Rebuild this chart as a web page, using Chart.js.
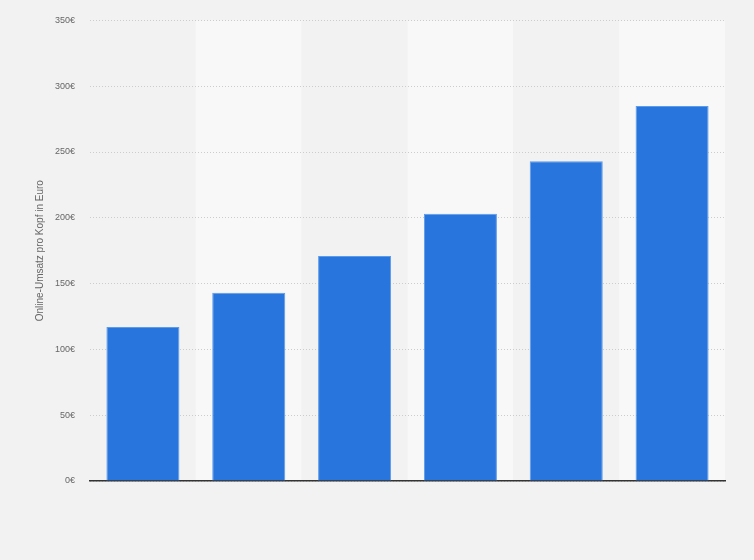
<!DOCTYPE html>
<html>
<head>
<meta charset="utf-8">
<script src="https://cdn.jsdelivr.net/npm/chart.js@4"></script>
<style>
  html, body { margin: 0; padding: 0; background: #f2f2f2; }
  #wrap { width: 754px; height: 560px; }
</style>
</head>
<body>
<div id="wrap"><canvas id="c" width="754" height="560"></canvas></div>
<script>
const categories = ["2015", "2016", "2017", "2018", "2019", "2020"];
const values = [117, 143, 171, 203, 243, 285];
const yTicks = [0, 50, 100, 150, 200, 250, 300, 350];
const yTitle = "Online-Umsatz pro Kopf in Euro";

const columnBands = {
  id: 'columnBands',
  beforeDraw(chart) {
    const { ctx, chartArea, scales } = chart;
    const x = scales.x;
    const n = categories.length;
    const w = (chartArea.right - chartArea.left) / n;
    ctx.save();
    for (let i = 0; i < n; i++) {
      ctx.fillStyle = (i % 2 === 1) ? '#f8f8f8' : '#f2f2f2';
      const cx = x.getPixelForValue(i);
      ctx.fillRect(cx - w / 2, chartArea.top, w, chartArea.bottom - chartArea.top);
    }
    ctx.restore();
  }
};

new Chart(document.getElementById('c'), {
  type: 'bar',
  data: {
    labels: categories,
    datasets: [{
      data: values,
      backgroundColor: '#2876dd',
      borderColor: '#5c9be9',
      borderWidth: { top: 1, left: 1, right: 1, bottom: 0 },
      borderSkipped: 'bottom',
      categoryPercentage: 1,
      barPercentage: 0.69
    }]
  },
  options: {
    responsive: false,
    animation: false,
    devicePixelRatio: 1,
    layout: { padding: { left: 0, right: 29, top: 20, bottom: 79 } },
    plugins: { legend: { display: false }, tooltip: { enabled: false } },
    font: { family: "'Liberation Sans', Arial, sans-serif" },
    scales: {
      x: {
        ticks: { display: false },
        grid: { display: false, drawTicks: false },
        border: { display: true, color: '#333333', width: 1.5 },
        afterFit(scale) { scale.height = 0; }
      },
      y: {
        min: 0,
        max: 350,
        afterBuildTicks(scale) { scale.ticks = yTicks.map(v => ({ value: v })); },
        ticks: {
          padding: 15,
          color: '#666666',
          font: { family: "'Liberation Sans', Arial, sans-serif", size: 9 },
          callback: (v) => v + '€'
        },
        grid: { color: '#cccccc', drawTicks: false, lineWidth: 1 },
        border: { display: false, dash: [1, 2] },
        title: {
          display: true,
          text: yTitle,
          color: '#666666',
          font: { family: "'Liberation Sans', Arial, sans-serif", size: 10 },
          padding: { top: 34, bottom: 0 }
        },
        afterFit(scale) { scale.width = 90; }
      }
    }
  },
  plugins: [columnBands]
});
</script>
</body>
</html>
